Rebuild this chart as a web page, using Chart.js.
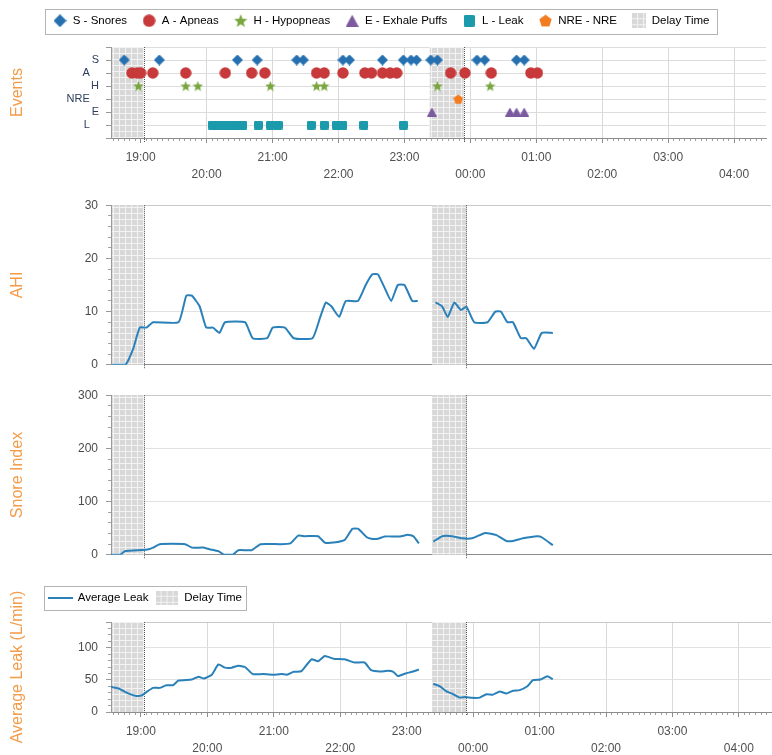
<!DOCTYPE html>
<html><head><meta charset="utf-8">
<script src="https://cdn.jsdelivr.net/npm/chart.js@4.4.1/dist/chart.umd.min.js"></script>
<style>
html,body{margin:0;padding:0;background:#fff;}
#wrap{position:relative;width:772px;height:755px;overflow:hidden;background:#fff;}
#wrap canvas{position:absolute;left:0;}
</style></head><body>
<div id="wrap">
<canvas id="cEv" width="772" height="190" style="top:0px;width:772px;height:190px"></canvas>
<canvas id="cAhi" width="772" height="190" style="top:190px;width:772px;height:190px"></canvas>
<canvas id="cSn" width="772" height="190" style="top:380px;width:772px;height:190px"></canvas>
<canvas id="cLk" width="772" height="180" style="top:575px;width:772px;height:180px"></canvas>
</div>
<script>
// ---------------- DATA ----------------
const xRange = ['18:33', '04:29'];
const hourTicks = ['19:00','20:00','21:00','22:00','23:00','00:00','01:00','02:00','03:00','04:00'];
const delayStart = ['18:33', '23:23'];
const delayEnd   = ['19:03', '23:54'];

const eventRows = ['L', 'E', 'NRE', 'H', 'A', 'S']; // bottom to top

const snoreT  = ['18:45','19:17','20:28','20:46','21:22','21:28','22:04','22:10','22:40','22:59','23:06','23:11','23:24','23:30','00:06','00:13','00:42','00:49'];
const apneaT  = ['18:52','18:57','19:00','19:11','19:41','20:17','20:41','20:53','21:40','21:47','22:04','22:24','22:30','22:40','22:47','22:53','23:42','23:55','00:19','00:55','01:01'];
const hypoT   = ['18:58','19:41','19:52','20:58','21:40','21:47','23:30','00:18'];
const exhaleT = ['23:25','00:36','00:42','00:49'];
const leakEvT = ['20:05','20:10','20:14','20:19','20:24','20:29','20:33','20:47','20:58','21:05','21:35','21:47','21:58','22:04','22:23','22:59'];
const nreT    = ['23:49'];

const ahiT = ['18:34','18:46','18:53','18:59','19:05','19:11','19:34','19:41','19:46','19:53','19:59','20:05','20:11','20:16','20:34','20:41','20:54','20:59','21:10','21:18','21:35','21:42','21:47','21:52','21:59','22:05','22:16','22:23','22:29','22:34','22:40','22:46','22:52','22:58','23:05','23:10','23:18','23:26','23:32','23:37','23:43','23:49','23:54','00:01','00:13','00:20','00:25','00:31','00:36','00:43','00:48','00:55','01:02','01:12'];
const ahiV = [0,0,3,7,7,8,8,13,13,11,7,7,6,8,8,5,5,7,7,5,5,9,11.7,11,9,12,12,15,17,17,14.5,12,15,15,12,12,null,11.75,11,9,11.7,10.3,10.9,8,8,10,10,8,8,5,5,3,6,6];

const snoreIdxT = ['18:33','18:41','18:46','19:01','19:07','19:11','19:17','19:40','19:46','19:56','20:02','20:10','20:15','20:23','20:28','20:40','20:48','21:06','21:15','21:22','21:28','21:40','21:46','21:54','22:04','22:11','22:16','22:24','22:28','22:34','22:40','22:54','23:01','23:06','23:11','23:18','23:24','23:32','23:41','23:50','23:59','00:11','00:21','00:30','00:36','00:45','00:58','01:02','01:12'];
const snoreIdxV = [0,0,7,9,10.5,13.5,20,20,13.5,13.5,10.5,7,0,0,8.6,8.6,20,20,21.6,36,35,35,23,23,28,49,49,33,30,30,34.5,34.5,37.6,35,21.6,null,24.6,35,35,31,31,41,37,26,26,31,35,33,18];

const leakT = ['18:33','18:40','18:49','18:56','19:01','19:05','19:11','19:17','19:23','19:29','19:34','19:46','19:52','19:57','20:04','20:10','20:16','20:22','20:28','20:34','20:41','20:50','20:59','21:07','21:12','21:18','21:25','21:34','21:40','21:46','21:54','22:04','22:13','22:22','22:28','22:36','22:43','22:48','22:52','22:59','23:05','23:11','23:18','23:24','23:30','23:36','23:41','23:48','23:53','23:59','00:06','00:12','00:18','00:24','00:30','00:36','00:42','00:49','00:54','01:01','01:07','01:12'];
const leakV = [39,36.5,28.6,25,26,31,37.5,37.5,41.7,41.7,49,50.5,55,52,58,74,69,69,72,70,59,59,58,59,58,62.5,63.5,82,79,87,83,82,77,77,65,63,64,62.5,56,60,62.5,66,null,44,40,32,28.6,22.4,23.4,22,22.4,27.6,27,32,28.6,33,34,40,49.5,50.5,55.7,51];

const ahiTicks = [0, 10, 20, 30];
const snoreTicks = [0, 100, 200, 300];
const leakTicks = [0, 50, 100];

// ---------------- HELPERS ----------------
Chart.defaults.font.family = "'Liberation Sans', Arial, sans-serif";
Chart.defaults.color = '#444';
const ORANGE = '#f39c4a';
const LINE = '#2a80b9';
const FONT_T = "'Liberation Sans', Arial, sans-serif";

function toMin(t) { const p = t.split(':'); let h = +p[0]; const m = +p[1]; if (h < 12) h += 24; return (h - 18) * 60 + m; }
const X_MIN = toMin(xRange[0]), X_MAX = toMin(xRange[1]);

function hourLabel(v) {
  const i = hourTicks.findIndex(t => toMin(t) === v);
  if (i < 0) return '';
  const s = hourTicks[i];
  return (parseInt(s, 10) % 2 === 1) ? s : ['', s];
}

function mk(w, h, fn) { const c = document.createElement('canvas'); c.width = w; c.height = h; const g = c.getContext('2d'); fn(g, w, h); return c; }
function poly(g, cx, cy, n, R, r, rot) {
  g.beginPath();
  const k = r ? n * 2 : n;
  for (let i = 0; i < k; i++) {
    const a = -Math.PI / 2 + i * 2 * Math.PI / k + (rot || 0);
    const rr = (r && i % 2) ? r : R;
    const px = cx + rr * Math.cos(a), py = cy + rr * Math.sin(a);
    i ? g.lineTo(px, py) : g.moveTo(px, py);
  }
  g.closePath();
}
const C_S = '#2670b0', C_A = '#c7393a', C_H = '#7aa640', C_E = '#7b5aa0', C_L = '#1b9aab', C_N = '#f47c20';
function diamond(s, col) { return mk(s, s, (g, w, h) => { g.fillStyle = col; g.beginPath(); g.moveTo(w/2, 0); g.lineTo(w, h/2); g.lineTo(w/2, h); g.lineTo(0, h/2); g.closePath(); g.fill(); }); }
function circle(s, col) { return mk(s, s, (g, w, h) => { g.fillStyle = col; g.beginPath(); g.arc(w/2, h/2, w/2 - 0.3, 0, Math.PI * 2); g.fill(); }); }
function star(s, col) { return mk(s, s, (g, w, h) => { g.fillStyle = col; poly(g, w/2, h/2 + 0.5, 5, w/2, w/4.6); g.fill(); }); }
function tri(w0, h0, col) { return mk(w0, h0, (g, w, h) => { g.fillStyle = col; g.beginPath(); g.moveTo(w/2, 0); g.lineTo(w, h); g.lineTo(0, h); g.closePath(); g.fill(); }); }
function sq(w0, h0, col) { return mk(w0, h0, (g, w, h) => { g.fillStyle = col; g.beginPath(); g.roundRect(0, 0, w, h, 1.5); g.fill(); }); }
function pent(s, col) { return mk(s, s, (g, w, h) => { g.fillStyle = col; poly(g, w/2, h/2 + 0.6, 5, w/2); g.fill(); }); }
const patCanvas = mk(6, 6, (g) => { g.fillStyle = '#d8d8d8'; g.fillRect(0, 0, 6, 6); g.fillStyle = '#f3f3f3'; g.fillRect(5, 0, 1, 6); g.fillRect(0, 5, 6, 1); });
function swatch(w0, h0) { return mk(w0, h0, (g, w, h) => { g.fillStyle = g.createPattern(patCanvas, 'repeat'); g.fillRect(0, 0, w, h); }); }

const evDefs = [
  { label: 'S - Snores',       times: snoreT,  row: 'S',   img: diamond(11, C_S),  leg: diamond(13, C_S) },
  { label: 'A - Apneas',       times: apneaT,  row: 'A',   img: circle(12, C_A),   leg: circle(13, C_A) },
  { label: 'H - Hypopneas',    times: hypoT,   row: 'H',   img: star(11, C_H),     leg: star(14, C_H) },
  { label: 'E - Exhale Puffs', times: exhaleT, row: 'E',   img: tri(10, 9, C_E),   leg: tri(13, 12, C_E) },
  { label: 'L - Leak',         times: leakEvT, row: 'L',   img: sq(9, 9, C_L),     leg: sq(11, 12, C_L) },
  { label: 'NRE - NRE',        times: nreT,    row: 'NRE', img: pent(10, C_N),     leg: pent(13, C_N) }
];

// ---------------- PLUGINS ----------------
const delayPlugin = {
  id: 'delay',
  beforeDatasetsDraw(chart) {
    const { ctx, chartArea: a } = chart; const x = chart.scales.x;
    if (!chart.$pat) chart.$pat = ctx.createPattern(patCanvas, 'repeat');
    ctx.save();
    for (let i = 0; i < delayStart.length; i++) {
      const x0 = Math.max(x.getPixelForValue(toMin(delayStart[i])), a.left + 1);
      const x1 = x.getPixelForValue(toMin(delayEnd[i]));
      ctx.fillStyle = chart.$pat;
      ctx.fillRect(x0, a.top, x1 - x0, a.bottom - a.top);
      ctx.setLineDash([1, 1]); ctx.strokeStyle = '#555'; ctx.lineWidth = 1;
      const xx = Math.round(x1) + 0.5;
      ctx.beginPath(); ctx.moveTo(xx, a.top); ctx.lineTo(xx, a.bottom + 4); ctx.stroke();
      ctx.setLineDash([]);
    }
    ctx.restore();
  }
};
const legendPlace = {
  id: 'legendPlace',
  afterLayout(chart, args, o) { if (chart.legend && o && o.left !== undefined) chart.legend.left = o.left; }
};
const legendBox = {
  id: 'legendBox',
  afterDraw(chart, args, o) {
    const l = chart.legend; if (!l || !l.legendHitBoxes || !l.legendHitBoxes.length) return;
    const hb = l.legendHitBoxes, f = hb[0], e = hb[hb.length - 1];
    const x0 = Math.round(f.left - o.padL) + 0.5, x1 = Math.round(e.left + e.width + o.padR) + 0.5;
    const y0 = Math.round(f.top - o.padT) + 0.5, y1 = Math.round(f.top + f.height + o.padB) + 0.5;
    const ctx = chart.ctx; ctx.save(); ctx.strokeStyle = '#b4b4b4'; ctx.lineWidth = 1;
    ctx.strokeRect(x0, y0, x1 - x0, y1 - y0); ctx.restore();
  }
};

// ---------------- SCALES ----------------
function xMain(labels, height) {
  return {
    type: 'linear', axis: 'x', position: 'bottom', min: X_MIN, max: X_MAX,
    afterBuildTicks: s => { s.ticks = hourTicks.map(t => ({ value: toMin(t) })); },
    afterFit: s => { s.height = height; },
    ticks: { display: labels, autoSkip: false, maxRotation: 0, minRotation: 0, padding: 6.5, color: '#505050',
             font: { size: 12, lineHeight: '17px' }, callback: v => hourLabel(v) },
    grid: labels ? { color: '#d9d9d9', tickColor: '#8c8c8c', tickLength: 5 } : { drawOnChartArea: false, drawTicks: false },
    border: { color: '#8c8c8c' }
  };
}
function xMinor() {
  return {
    type: 'linear', axis: 'x', position: 'bottom', min: X_MIN, max: X_MAX,
    afterFit: s => { s.height = 0; },
    ticks: { display: false, stepSize: 5, includeBounds: false, autoSkip: false },
    grid: { drawOnChartArea: false, tickLength: 3, tickColor: '#a0a0a0' },
    border: { display: false }
  };
}
function yMinor(max, step) {
  return {
    type: 'linear', axis: 'y', position: 'left', min: 0, max: max,
    afterFit: s => { s.width = 0; },
    ticks: { display: false, stepSize: step, includeBounds: false, autoSkip: false },
    grid: { drawOnChartArea: false, tickLength: 3, tickColor: '#a0a0a0' },
    border: { display: false }
  };
}
function yMain(max, tickVals, title) {
  return {
    type: 'linear', axis: 'y', position: 'left', min: 0, max: max,
    afterBuildTicks: s => { const t = tickVals.map(v => ({ value: v })); if (tickVals[tickVals.length - 1] < max) t.push({ value: max }); s.ticks = t; },
    afterFit: s => { s.width = 111; },
    ticks: { padding: 8, autoSkip: false, color: '#4a4a4a', font: { size: 12 }, callback: v => tickVals.includes(v) ? String(v) : '' },
    grid: { color: c => (c.tick && c.tick.value === max) ? '#c9c9c9' : (c.tick && c.tick.value > 0 ? '#e1e1e1' : 'rgba(0,0,0,0)'),
            tickColor: '#999', tickLength: 5 },
    border: { color: '#9a9a9a' },
    title: { display: true, text: title, color: ORANGE, font: { size: 16, family: FONT_T }, padding: { top: 8, bottom: 0 } }
  };
}
const baseOpts = { responsive: false, animation: false, events: [], maintainAspectRatio: false };

function lineDs(label, T, V) {
  return { type: 'line', label, data: T.map((t, i) => ({ x: toMin(t), y: V[i] })), borderColor: LINE, backgroundColor: LINE,
           borderWidth: 2, pointRadius: 0, tension: 0.15, spanGaps: false, xAxisID: 'x', yAxisID: 'y' };
}

// ---------------- EVENTS CHART ----------------
new Chart(document.getElementById('cEv'), {
  type: 'scatter',
  data: { datasets: evDefs.map(d => ({
    label: d.label, data: d.times.map(t => ({ x: toMin(t), y: eventRows.indexOf(d.row) + 1 })),
    pointStyle: d.img, pointRadius: 5, xAxisID: 'x', yAxisID: 'y'
  })) },
  options: Object.assign({}, baseOpts, {
    layout: { padding: { top: 0, right: 1, left: 0, bottom: 0 } },
    scales: {
      xm: xMinor(),
      x: xMain(true, 52),
      y: {
        type: 'linear', axis: 'y', position: 'left', min: 0, max: eventRows.length + 1,
        afterBuildTicks: s => { const t = []; for (let i = 0; i <= eventRows.length + 1; i++) t.push({ value: i }); s.ticks = t; },
        afterFit: s => { s.width = 111; },
        ticks: { padding: 7, autoSkip: false, color: '#2e3d5c', font: { size: 11 },
                 callback: v => { const lab = eventRows[v - 1]; if (!lab) return ''; return (v % 2 === 1) ? lab + '   ' : lab; } },
        grid: { color: c => (c.tick && c.tick.value > 0) ? '#dcdcdc' : 'rgba(0,0,0,0)', tickColor: '#999', tickLength: 5 },
        border: { color: '#9a9a9a' },
        title: { display: true, text: 'Events', color: ORANGE, font: { size: 16, family: FONT_T }, padding: { top: 8, bottom: 0 } }
      }
    },
    plugins: {
      tooltip: { enabled: false },
      legend: { display: true, position: 'top', align: 'start',
        labels: { usePointStyle: true, pointStyleWidth: 14, padding: 15, color: '#333', font: { size: 11.5 },
          generateLabels: () => evDefs.map((d, i) => ({ text: d.label, pointStyle: d.leg, fillStyle: 'rgba(0,0,0,0)', strokeStyle: 'rgba(0,0,0,0)', lineWidth: 0, hidden: false, datasetIndex: i }))
            .concat([{ text: 'Delay Time', pointStyle: swatch(14, 15), fillStyle: 'rgba(0,0,0,0)', strokeStyle: 'rgba(0,0,0,0)', lineWidth: 0, hidden: false }]) } },
      subtitle: { display: true, text: ' ', position: 'top', weight: 100, font: { size: 1, lineHeight: 1 }, padding: { top: 0, bottom: 9.5 } },
      legendPlace: { left: 38 },
      legendBox: { padL: 8, padR: 8, padT: 6, padB: 7 }
    }
  }),
  plugins: [delayPlugin, legendPlace, legendBox]
});

// ---------------- AHI ----------------
new Chart(document.getElementById('cAhi'), {
  type: 'line',
  data: { datasets: [lineDs('AHI', ahiT, ahiV)] },
  options: Object.assign({}, baseOpts, {
    layout: { padding: { top: 13, right: 1, left: 0, bottom: 0 } },
    scales: { x: xMain(false, 14), ym: yMinor(30, 2), y: yMain(30, ahiTicks, 'AHI') },
    plugins: { legend: { display: false }, tooltip: { enabled: false } }
  }),
  plugins: [delayPlugin]
});

// ---------------- SNORE INDEX ----------------
new Chart(document.getElementById('cSn'), {
  type: 'line',
  data: { datasets: [lineDs('Snore Index', snoreIdxT, snoreIdxV)] },
  options: Object.assign({}, baseOpts, {
    layout: { padding: { top: 15, right: 1, left: 0, bottom: 0 } },
    scales: { x: xMain(false, 13), ym: yMinor(300, 20), y: yMain(300, snoreTicks, 'Snore Index') },
    plugins: { legend: { display: false }, tooltip: { enabled: false } }
  }),
  plugins: [delayPlugin]
});

// ---------------- AVERAGE LEAK ----------------
const leakLegLine = mk(25, 2, (g, w, h) => { g.fillStyle = LINE; g.fillRect(0, 0, w, h); });
new Chart(document.getElementById('cLk'), {
  type: 'line',
  data: { datasets: [lineDs('Average Leak', leakT, leakV)] },
  options: Object.assign({}, baseOpts, {
    layout: { padding: { top: 11, right: 1, left: 0, bottom: 0 } },
    scales: { xm: xMinor(), x: xMain(true, 43), ym: yMinor(140, 10), y: yMain(140, leakTicks, 'Average Leak (L/min)') },
    plugins: {
      tooltip: { enabled: false },
      legend: { display: true, position: 'top', align: 'start',
        labels: { usePointStyle: true, pointStyleWidth: 24, padding: 6, color: '#333', font: { size: 11.5 },
          generateLabels: () => [
            { text: 'Average Leak', pointStyle: leakLegLine, fillStyle: 'rgba(0,0,0,0)', strokeStyle: 'rgba(0,0,0,0)', lineWidth: 0, hidden: false, datasetIndex: 0 },
            { text: 'Delay Time', pointStyle: swatch(22, 14), fillStyle: 'rgba(0,0,0,0)', strokeStyle: 'rgba(0,0,0,0)', lineWidth: 0, hidden: false }
          ] } },
      subtitle: { display: true, text: ' ', position: 'top', weight: 100, font: { size: 1, lineHeight: 1 }, padding: { top: 0, bottom: 7.5 } },
      legendPlace: { left: 42 },
      legendBox: { padL: 4, padR: 4, padT: 6, padB: 6 }
    }
  }),
  plugins: [delayPlugin, legendPlace, legendBox]
});
</script>
</body></html>
